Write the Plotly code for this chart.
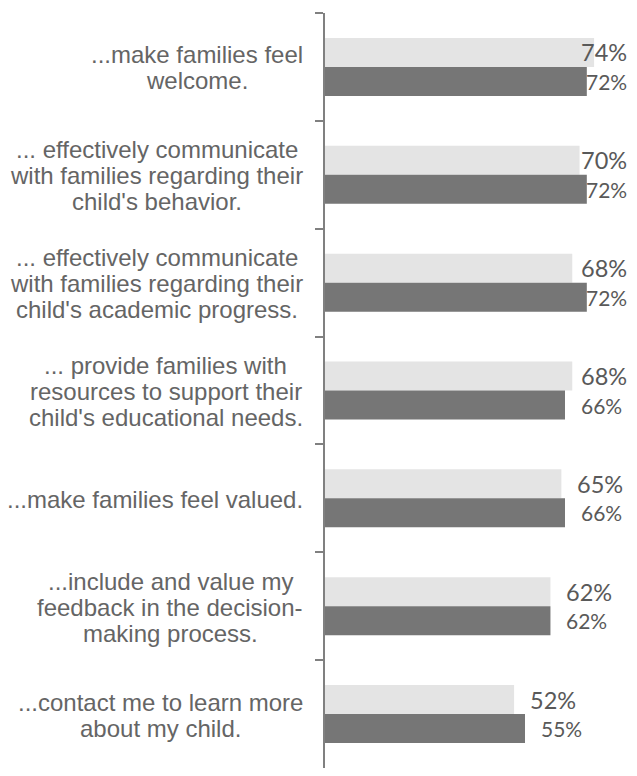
import plotly.graph_objects as go

# survey statements (line breaks as in the original labels)
labels = [
    "...make families feel<br>welcome.",
    "... effectively communicate<br>with families regarding their<br>child's behavior.",
    "... effectively communicate<br>with families regarding their<br>child's academic progress.",
    "... provide families with<br>resources to support their<br>child's educational needs.",
    "...make families feel valued.",
    "...include and value my<br>feedback in the decision-<br>making process.",
    "...contact me to learn more<br>about my child.",
]
prior = [74, 70, 68, 68, 65, 62, 52]
current = [72, 72, 72, 66, 66, 62, 55]

LIGHT = "#e4e4e4"
DARK = "#767676"
TXT = "#595959"
X_MAX = 83.6
CLAMP_AT = 67  # labels past this would run off the right edge
FS = 24        # category label font size
LINE_H = 26    # tighter line spacing than plotly's <br>

# rough Arial advance widths (per em) to centre each line of a label block
AW = dict(zip("abcdefghijklmnopqrstuvwxyz",
              [.556, .556, .5, .556, .556, .278, .556, .556, .222, .222, .5, .222, .833,
               .556, .556, .556, .556, .333, .5, .278, .556, .5, .722, .5, .5, .5]))
AW.update({".": .278, " ": .278, "'": .191, "-": .333})

def text_w(s):
    return sum(AW.get(c, .556) for c in s) * FS

fig = go.Figure()
fig.add_bar(y=labels, x=prior, orientation="h", marker_color=LIGHT,
            marker_line_width=0, name="Prior", hoverinfo="skip")
fig.add_bar(y=labels, x=current, orientation="h", marker_color=DARK,
            marker_line_width=0, name="Current", hoverinfo="skip")

ann = []
for lab in labels:
    lines = lab.split("<br>")
    block_w = max(text_w(l) for l in lines)
    mid = (len(lines) - 1) / 2
    for i, line in enumerate(lines):
        ann.append(dict(text=line, xref="paper", x=0, yref="y", y=lab,
                        xanchor="center", yanchor="middle",
                        xshift=-22 - block_w / 2, yshift=(mid - i) * LINE_H - 1,
                        showarrow=False,
                        font=dict(family="Liberation Sans, Arial", size=FS, color="#656565")))

# value labels
for vals, shift, size in [(prior, 14.5, 23.5), (current, -14.5, 21)]:
    for lab, v in zip(labels, vals):
        a = dict(text="%d%%" % v, yref="y", y=lab, yanchor="middle",
                 yshift=shift, showarrow=False,
                 font=dict(family="Lato", size=size, color=TXT))
        if v > CLAMP_AT:
            a.update(xref="paper", x=1, xanchor="right", xshift=0)
        else:
            a.update(xref="x", x=v, xanchor="left", xshift=14)
        ann.append(a)

# page body has an 8px margin: keep the figure inside the window
fig.update_layout(
    width=621, height=760,
    margin=dict(l=317, r=0, t=5, b=0),
    paper_bgcolor="white", plot_bgcolor="white",
    barmode="group", bargap=0.462, bargroupgap=0,
    showlegend=False,
    annotations=ann,
)
fig.update_xaxes(visible=False, range=[0, X_MAX])
fig.update_yaxes(autorange="reversed", showticklabels=False, showgrid=False,
                 showline=True, linecolor="#808080", linewidth=1.5,
                 ticks="outside", tickson="boundaries", ticklen=8,
                 tickcolor="#808080", tickwidth=1.5)

fig.write_html("out.html")
